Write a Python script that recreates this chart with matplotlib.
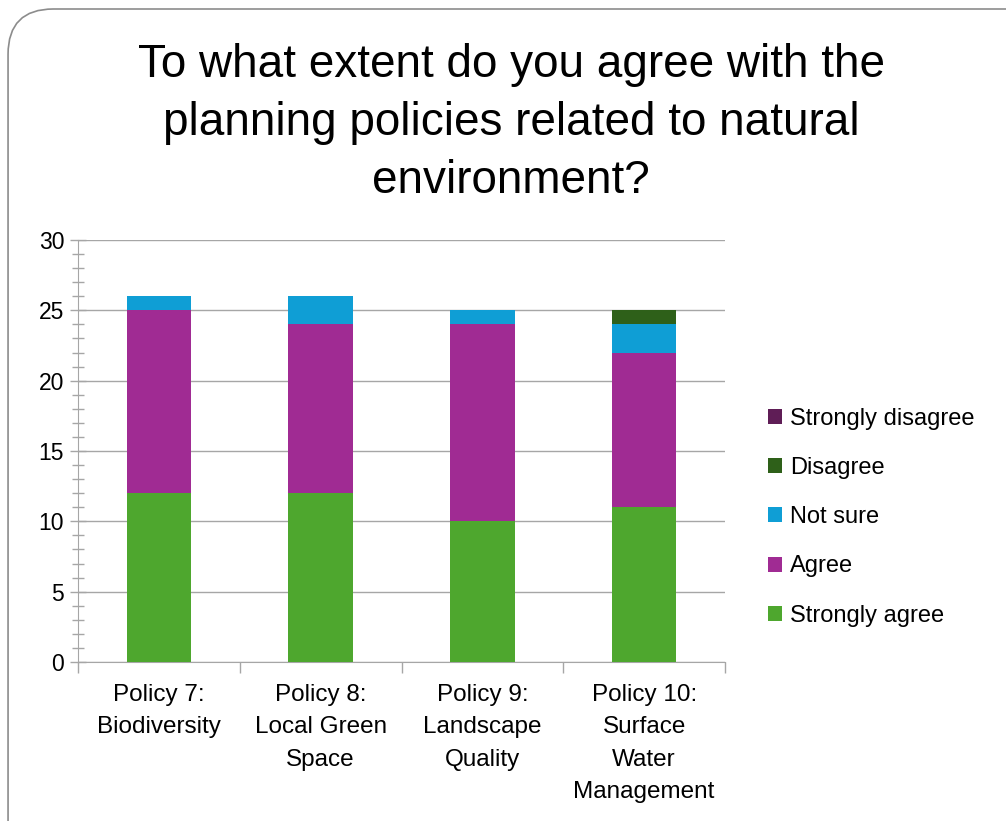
import matplotlib
matplotlib.use("Agg")
import matplotlib.pyplot as plt
import numpy as np
from matplotlib.patches import FancyBboxPatch
from matplotlib.ticker import MultipleLocator

categories = ["Policy 7:\nBiodiversity", "Policy 8:\nLocal Green\nSpace",
              "Policy 9:\nLandscape\nQuality", "Policy 10:\nSurface\nWater\nManagement"]
series_names = ["Strongly agree", "Agree", "Not sure", "Disagree", "Strongly disagree"]
strongly_agree = [12, 12, 10, 11]
agree = [13, 12, 14, 11]
not_sure = [1, 2, 1, 2]
disagree = [0, 0, 0, 1]
strongly_disagree = [0, 0, 0, 0]
colors = ["#4EA72E", "#A02B93", "#0F9ED5", "#2E6019", "#5F1D56"]

plt.rcParams["font.family"] = ["Liberation Sans", "DejaVu Sans"]

fig = plt.figure(figsize=(10.06, 8.21), dpi=100)
top = 1 - 9 / 821
border = FancyBboxPatch((0.008, -0.3), 1.3, top + 0.3, boxstyle="round,pad=0,rounding_size=0.045",
                        transform=fig.transFigure, facecolor="none", edgecolor="#8C8C8C",
                        linewidth=1.2, mutation_aspect=1006 / 821, zorder=-1)
fig.patches.append(border)

ax = fig.add_axes([78 / 1006, 1 - 662 / 821, (725 - 78) / 1006, (662 - 240) / 821])
ax.patch.set_alpha(0)

x = np.arange(len(categories))
bottom = np.zeros(len(categories))
handles = []
for name, vals, col in zip(series_names,
                           [strongly_agree, agree, not_sure, disagree, strongly_disagree],
                           colors):
    b = ax.bar(x, vals, 0.4, bottom=bottom, color=col, label=name, zorder=3)
    handles.append(b)
    bottom += np.array(vals)

ax.set_xlim(-0.5, len(categories) - 0.5)
ax.set_ylim(0, 30)
ax.yaxis.set_major_locator(MultipleLocator(5))
ax.yaxis.set_minor_locator(MultipleLocator(1))
ax.grid(axis="y", which="major", color="#A6A6A6", linewidth=1.0, zorder=0)
for s in ["top", "right"]:
    ax.spines[s].set_visible(False)
ax.spines["left"].set_color("#A6A6A6")
ax.spines["bottom"].set_color("#A6A6A6")
ax.tick_params(axis="y", which="both", direction="inout", colors="#A6A6A6",
               labelcolor="black", labelsize=16.5)
ax.tick_params(axis="y", which="major", length=12, width=1, pad=4)
ax.tick_params(axis="y", which="minor", length=8, width=1)
ax.set_xticks(x)
ax.set_xticklabels(categories, fontsize=17.5, linespacing=1.6)
ax.tick_params(axis="x", which="major", length=0, pad=16)
ax.set_xticks(np.arange(-0.5, len(categories)), minor=True)
ax.tick_params(axis="x", which="minor", direction="out", length=8, width=1, colors="#A6A6A6")

fig.text(0.508, 0.85, "To what extent do you agree with the\nplanning policies related to natural\nenvironment?",
         ha="center", va="center", fontsize=33, linespacing=1.42)

leg = fig.legend(handles[::-1], series_names[::-1], loc="center left",
                 bbox_to_anchor=(0.742, 0.37), frameon=False, fontsize=17,
                 handlelength=0.6, handleheight=0.6, handletextpad=0.35, labelspacing=1.15)

fig.savefig("out.png", dpi=100)
